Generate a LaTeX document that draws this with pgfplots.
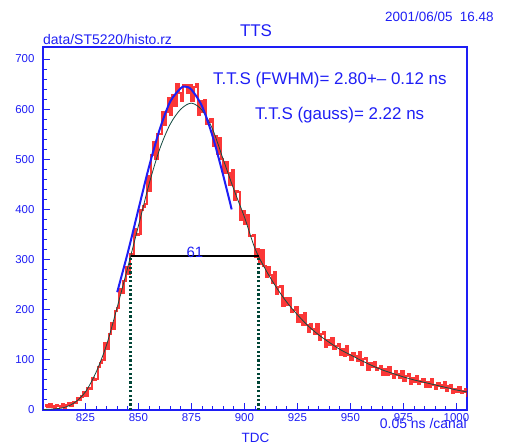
\documentclass[border=0pt]{standalone}
\usepackage{fontspec}
\setmainfont{Liberation Sans}
\usepackage{pgfplots}
\pgfplotsset{compat=1.18}
\definecolor{hblue}{RGB}{30,30,245}
\definecolor{fitline}{RGB}{20,75,65}
\definecolor{dotgreen}{RGB}{0,70,55}
\definecolor{hred}{RGB}{250,20,20}
\begin{document}
\begin{tikzpicture}
\useasboundingbox (0,0) rectangle (506bp,446bp);
\begin{axis}[at={(43bp,36bp)}, anchor=south west, scale only axis,
  width=424bp, height=363bp,
  xmin=805, xmax=1005, ymin=0, ymax=724,
  axis line style={hblue, line width=1.2bp},
  xtick={825,850,...,1000}, minor x tick num=4,
  ytick={0,100,...,700}, minor y tick num=4,
  tick align=inside, xtick pos=bottom, ytick pos=left,
  major tick length=7bp, minor tick length=4bp,
  every tick/.style={hblue, line width=1bp},
  every minor tick/.style={hblue, line width=1bp},
  ticklabel style={font=\fontsize{11.5}{12}\selectfont, text=hblue},
  yticklabel style={xshift=-5bp},
  /pgf/number format/assume math mode=true,
  /pgf/number format/1000 sep={},
]
\addplot[hred, opacity=0.85, line width=2.2bp, const plot, line join=miter] coordinates {
(806,9)(807,6)(808,11)(809,7)(810,5)(811,10)(812,8)(813,7)(814,12)(815,5)
(816,10)(817,13)(818,8)(819,15)(820,14)(821,23)(822,20)(823,27)(824,35)(825,29)
(826,44)(827,42)(828,64)(829,60)(830,62)(831,85)(832,93)(833,100)(834,133)(835,122)
(836,151)(837,173)(838,161)(839,197)(840,204)(841,241)(842,233)(843,258)(844,286)(845,271)
(846,311)(847,308)(848,360)(849,350)(850,351)(851,399)(852,406)(853,411)(854,467)(855,436)
(856,509)(857,535)(858,500)(859,550)(860,550)(861,594)(862,569)(863,594)(864,622)(865,588)
(866,628)(867,607)(868,650)(869,633)(870,617)(871,648)(872,647)(873,632)(874,648)(875,616)
(876,645)(877,650)(878,588)(879,617)(880,595)(881,619)(882,570)(883,574)(884,580)(885,526)
(886,547)(887,510)(888,542)(889,501)(890,473)(891,495)(892,472)(893,448)(894,478)(895,419)
(896,436)(897,434)(898,379)(899,396)(900,372)(901,388)(902,347)(903,347)(904,349)(905,305)
(906,320)(907,292)(908,319)(909,287)(910,265)(911,285)(912,270)(913,253)(914,276)(915,232)
(916,246)(917,248)(918,207)(919,224)(920,209)(921,224)(922,196)(923,200)(924,205)(925,175)
(926,189)(927,170)(928,193)(929,169)(930,155)(931,172)(932,162)(933,151)(934,171)(935,139)
(936,152)(937,155)(938,126)(939,140)(940,130)(941,143)(942,122)(943,127)(944,132)(945,109)
(946,122)(947,108)(948,127)(949,110)(950,100)(951,114)(952,107)(953,98)(954,115)(955,90)
(956,101)(957,104)(958,80)(959,93)(960,85)(961,96)(962,79)(963,83)(964,88)(965,70)
(966,82)(967,70)(968,86)(969,72)(970,64)(971,77)(972,71)(973,65)(974,78)(975,59)
(976,68)(977,71)(978,53)(979,63)(980,57)(981,67)(982,53)(983,57)(984,61)(985,47)
(986,56)(987,47)(988,61)(989,50)(990,43)(991,53)(992,49)(993,44)(994,55)(995,39)
(996,47)(997,49)(998,34)(999,42)(1000,37)(1001,45)(1002,34)(1003,37)(1004,41)(1005,29)
(1006,29)
};
\addplot[fitline, line width=0.8bp, smooth] coordinates {
(805,1)(810,2)(815,5)(820,15)(825,36)(830,75)(835,130)(840,205)(845,285)(850,367)
(855,450)(860,520)(865,570)(870,600)(875,612)(880,598)(885,560)(890,500)(895,440)(900,385)
(905,322)(910,280)(915,245)(920,215)(925,190)(930,168)(935,150)(940,135)(945,121)(950,110)
(955,99)(960,89)(965,80)(970,73)(975,66)(980,60)(985,55)(990,50)(995,45)(1000,40)(1005,36)
};
\addplot[hblue, line width=2bp, smooth] coordinates {
(840,235)(845,314)(850,400)(855,485)(860,559)(865,615)(870,642)(872,645)(875,639)
(880,606)(885,546)(890,468)(894,400)
};
\addplot[black, line width=1.8bp] coordinates {(846.4,307)(906.8,307)};
\addplot[dotgreen, line width=3bp, line cap=butt, dash pattern=on 2.2bp off 2.2bp] coordinates {(846.4,0)(846.4,307)};
\addplot[dotgreen, line width=3bp, line cap=butt, dash pattern=on 2.2bp off 2.2bp] coordinates {(906.8,0)(906.8,307)};
\end{axis}
\begin{scope}[every node/.style={text=hblue, inner sep=0pt}]
\node[font=\fontsize{17}{18}\selectfont] at (256bp,415bp) {TTS};
\node[anchor=west, font=\fontsize{13.5}{14}\selectfont] at (385bp,429.3bp) {2001/06/05\ \ 16.48};
\node[anchor=base west, font=\fontsize{14}{15}\selectfont] at (43bp,401bp) {data/ST5220/histo.rz};
\node[anchor=west, font=\fontsize{17}{18}\selectfont] at (213bp,366bp) {T.T.S (FWHM)= 2.80+-- 0.12 ns};
\node[anchor=west, font=\fontsize{17}{18}\selectfont] at (255bp,331bp) {T.T.S (gauss)= 2.22 ns};
\node[font=\fontsize{15}{16}\selectfont] at (195bp,194bp) {61};
\node[font=\fontsize{13.5}{14}\selectfont] at (255.5bp,8bp) {TDC};
\node[anchor=east, font=\fontsize{14}{15}\selectfont] at (467bp,22bp) {0.05 ns /canal};
\end{scope}
\end{tikzpicture}
\end{document}
